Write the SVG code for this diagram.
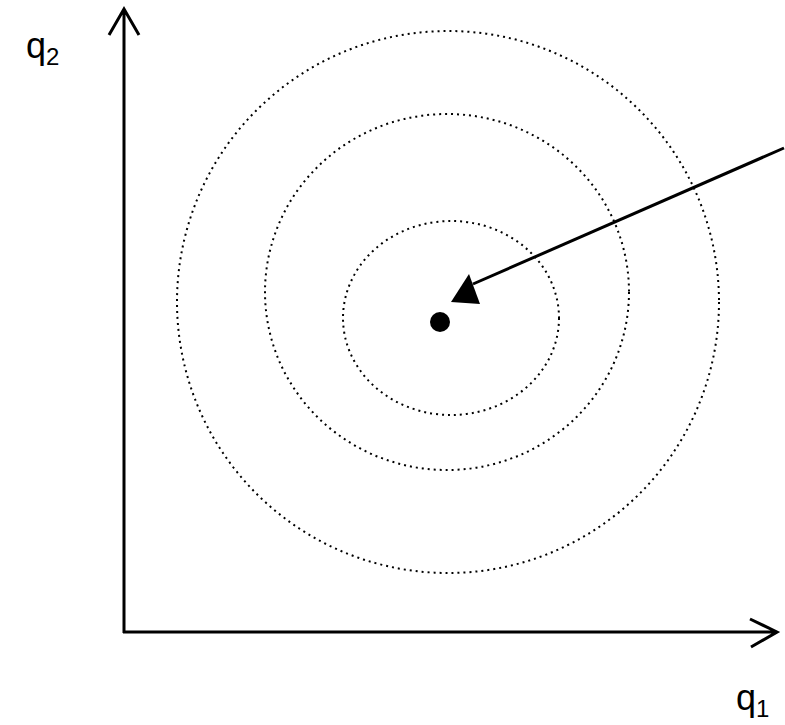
<svg xmlns="http://www.w3.org/2000/svg" width="785" height="725" viewBox="0 0 785 725">
<style>
.axis{fill:none;stroke:#000;stroke-width:3}
.ring{fill:none;stroke:#000;stroke-width:2;stroke-dasharray:2 4}
.lbl{font-family:"Liberation Sans",Arial,sans-serif;font-size:36px;fill:#000}
.sub{font-size:24px}
</style>
<rect width="785" height="725" fill="#fff"/>
<g id="contours">
<circle class="ring" cx="448" cy="302" r="271"/>
<ellipse class="ring" cx="447" cy="292" rx="182" ry="178"/>
<ellipse class="ring" cx="451" cy="318" rx="108" ry="97"/>
</g>
<g id="axes">
<path class="axis" d="M124 633 V9 M109 35 L124 9 L139 35"/>
<path class="axis" d="M123 632 H777 M750 619 L777 632 L751 647"/>
</g>
<g id="connectors">
<path d="M473 284 L784 148" stroke="#000" stroke-width="3" fill="none"/>
<polygon points="469,274 451,302 480,304" fill="#000"/>
</g>
<g id="optimum">
<circle cx="440" cy="322" r="10" fill="#000"/>
</g>
<g id="labels">
<text class="lbl" x="26" y="58">q<tspan class="sub" dy="7">2</tspan></text>
<text class="lbl" x="736" y="710">q<tspan class="sub" dy="7">1</tspan></text>
</g>
</svg>
